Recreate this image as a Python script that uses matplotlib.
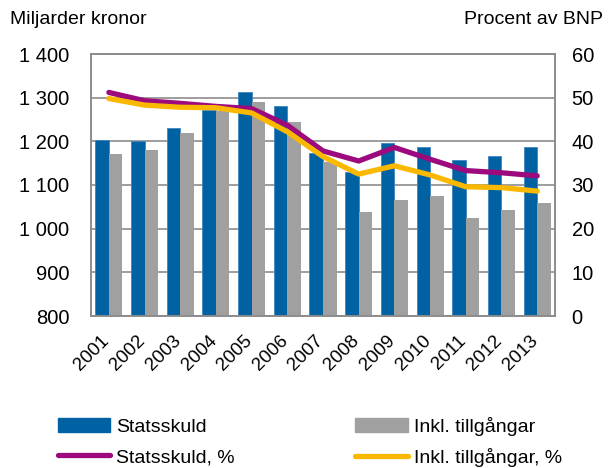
import numpy as np
import matplotlib
matplotlib.use("Agg")
import matplotlib.pyplot as plt
import matplotlib.transforms as mtransforms
from matplotlib.patches import Patch
from matplotlib.lines import Line2D

plt.rcParams['font.family'] = ['Liberation Sans', 'DejaVu Sans']

# data
years = ['2001', '2002', '2003', '2004', '2005', '2006', '2007',
         '2008', '2009', '2010', '2011', '2012', '2013']
statsskuld = [1203, 1200, 1231, 1272, 1313, 1281, 1174, 1129, 1197, 1187, 1157, 1167, 1186]
inkl_tillg = [1172, 1181, 1218, 1270, 1291, 1245, 1152, 1038, 1065, 1075, 1025, 1043, 1058]
statsskuld_pct = [51.2, 49.3, 48.7, 48.0, 47.5, 43.7, 37.8, 35.5, 38.6, 35.9, 33.3, 32.8, 32.1]
inkl_tillg_pct = [49.8, 48.3, 47.8, 47.7, 46.5, 42.2, 36.5, 32.5, 34.4, 32.3, 29.6, 29.4, 28.6]

left_ticks = [800, 900, 1000, 1100, 1200, 1300, 1400]
left_labels = ['800', '900', '1 000', '1 100', '1 200', '1 300', '1 400']
right_ticks = [0, 10, 20, 30, 40, 50, 60]

c_blue = '#0062a3'
c_grey = '#a0a0a0'
c_purple = '#9c0a7d'
c_yellow = '#fbb800'
c_axis = '#8c8c8c'

fig = plt.figure(figsize=(6.13, 4.68), dpi=100)
ax = fig.add_axes([91 / 613, 1 - 316 / 468, (555 - 91) / 613, (316 - 54) / 468])

x = np.arange(len(years))
w = 0.38
ax.bar(x - w / 2, statsskuld, width=w, color=c_blue, edgecolor='#3f86c0', linewidth=0.6, zorder=2)
ax.bar(x + w / 2, inkl_tillg, width=w, color=c_grey, edgecolor='none', zorder=2)
ax.set_ylim(800, 1400)
ax.set_xlim(-0.5, len(years) - 0.5)
ax.set_yticks(left_ticks)
ax.set_yticklabels(left_labels)
ax.set_xticks(x)
ax.set_xticklabels(years, rotation=45, ha='right', rotation_mode='anchor')
ax.grid(axis='y', color=c_axis, linewidth=1.2, zorder=0)
ax.tick_params(length=0, labelsize=14.5, pad=15.5)
ax.tick_params(axis='x', labelsize=13.5, pad=11.5)
# nudge year labels a bit to the left
shift = mtransforms.ScaledTranslation(-8 / 100, 0, fig.dpi_scale_trans)
for lab in ax.get_xticklabels():
    lab.set_transform(lab.get_transform() + shift)
for s in ax.spines.values():
    s.set_color(c_axis)
    s.set_linewidth(1.2)

ax2 = ax.twinx()
ax2.plot(x, statsskuld_pct, color=c_purple, lw=3.8, solid_capstyle='round', zorder=3)
ax2.plot(x, inkl_tillg_pct, color=c_yellow, lw=3.8, solid_capstyle='round', zorder=3)
ax2.set_ylim(0, 60)
ax2.set_yticks(right_ticks)
ax2.tick_params(length=0, labelsize=14.5, pad=12)
for s in ax2.spines.values():
    s.set_color(c_axis)
    s.set_linewidth(1.2)

fig.text(10 / 613, 1 - 19 / 468, 'Miljarder kronor', fontsize=14, va='center', ha='left')
fig.text(603 / 613, 1 - 19 / 468, 'Procent av BNP', fontsize=14, va='center', ha='right')

handles = [Patch(color=c_blue), Line2D([], [], color=c_purple, lw=3.8, solid_capstyle='round'),
           Patch(color=c_grey), Line2D([], [], color=c_yellow, lw=3.8, solid_capstyle='round')]
labels = ['Statsskuld', 'Statsskuld, %', 'Inkl. tillgångar', 'Inkl. tillgångar, %']
fig.legend(handles, labels, ncol=2, loc='upper left', bbox_to_anchor=(50 / 613, 1 - 409 / 468),
           frameon=False, fontsize=14, handlelength=2.7, handleheight=0.75, handletextpad=0.3,
           columnspacing=6.2, labelspacing=0.65, borderaxespad=0)

fig.savefig('out.png', dpi=100)
